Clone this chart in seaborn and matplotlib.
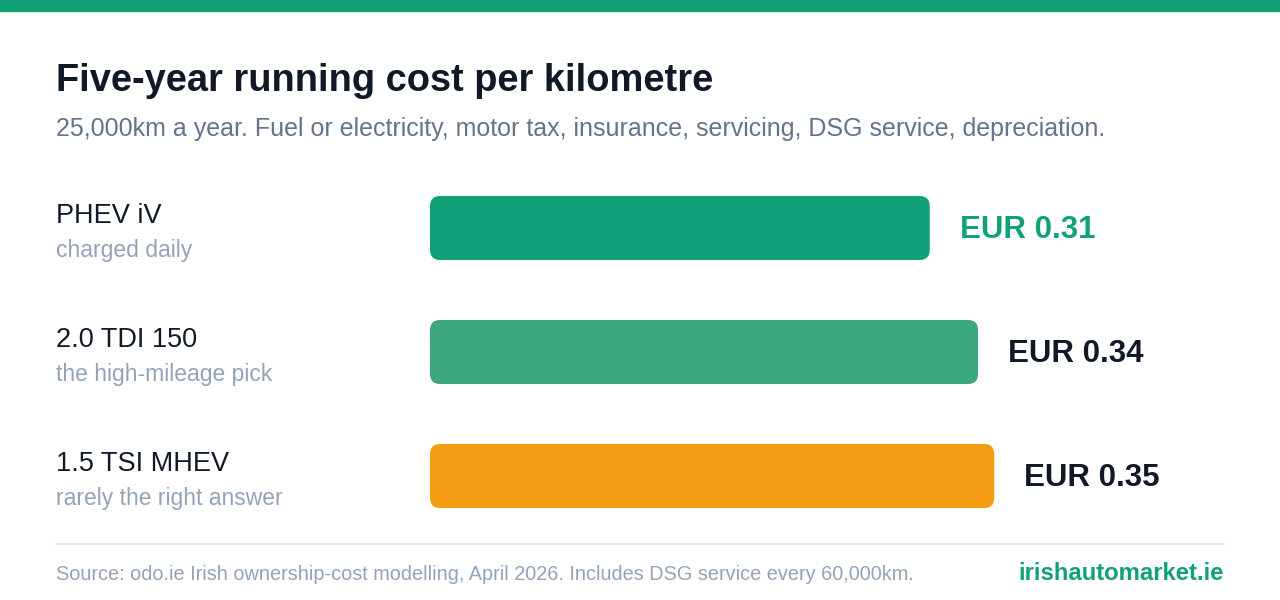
import pandas as pd
import matplotlib
matplotlib.use("Agg")
import matplotlib.pyplot as plt
from matplotlib.patches import FancyBboxPatch, Rectangle
import seaborn as sns

# ---- data ----
models = ["PHEV iV", "2.0 TDI 150", "1.5 TSI MHEV"]
notes = ["charged daily", "the high-mileage pick", "rarely the right answer"]
cost_per_km = [0.31, 0.34, 0.35]
bar_colors = ["#12a079", "#3ca67f", "#f39c12"]
value_colors = ["#12a079", "#111827", "#111827"]

title = "Five-year running cost per kilometre"
subtitle = "25,000km a year. Fuel or electricity, motor tax, insurance, servicing, DSG service, depreciation."
source = "Source: odo.ie Irish ownership-cost modelling, April 2026. Includes DSG service every 60,000km."
brand = "irishautomarket.ie"

df = pd.DataFrame({"model": models, "cost": cost_per_km})

sns.set_theme(style="white")
plt.rcParams["font.family"] = ["Liberation Sans", "DejaVu Sans"]

W, H = 1280, 600
fig = plt.figure(figsize=(W / 100, H / 100), dpi=100)
fig.patch.set_facecolor("white")

def fx(px):
    return px / W

def fy(py):
    return 1 - py / H

# top accent band
fig.patches.append(Rectangle((0, fy(11)), 1, 11 / H, transform=fig.transFigure,
                             color="#12a079", zorder=0))

fig.text(fx(56), fy(81), title, fontsize=27.4, fontweight="bold", color="#111827", va="center")
fig.text(fx(56), fy(129), subtitle, fontsize=18.0, color="#64748b", va="center")

# plot area: x=0 sits at 430px, 1612 px per EUR
ax = fig.add_axes([fx(430), fy(538), 800 / W, 372 / H])
sns.barplot(data=df, y="model", x="cost", hue="model", palette=bar_colors,
            saturation=1, orient="h", legend=False, width=64 / 124, ax=ax)
ax.set_xlim(0, 800 / 1612)
ax.set_ylim(2.5, -0.5)
ax.axis("off")

# swap plain bars for rounded ones
r = 10 / 1612
aspect = 1612 / 124
for p in list(ax.patches):
    x0, y0 = p.get_x(), p.get_y()
    w, h = p.get_width(), p.get_height()
    fc = p.get_facecolor()
    p.remove()
    ax.add_patch(FancyBboxPatch((x0, y0), w, h,
                                boxstyle=f"round,pad=0,rounding_size={r}",
                                mutation_aspect=aspect, facecolor=fc,
                                edgecolor="none"))

for i, v in enumerate(cost_per_km):
    ax.annotate(f"EUR {v:.2f}", xy=(v, i), xytext=(21.5, -1.5), textcoords="offset points",
                va="center", ha="left", fontsize=22.5, fontweight="bold",
                color=value_colors[i])

# row labels on the left
for i, (m, n) in enumerate(zip(models, notes)):
    fig.text(fx(56), fy(216 + 124 * i), m, fontsize=19.5, color="#111827", va="center")
    fig.text(fx(56), fy(251 + 124 * i), n, fontsize=16.5, color="#94a3b8", va="center")

# footer
fig.add_artist(plt.Line2D([fx(56), fx(1224)], [fy(544), fy(544)], color="#e5e7eb", lw=1.5))
fig.text(fx(56), fy(574), source, fontsize=14.35, color="#94a3b8", va="center")
fig.text(fx(1224), fy(573), brand, fontsize=17.2, fontweight="bold", color="#12a079",
         va="center", ha="right")

fig.savefig("out.png", dpi=100)
